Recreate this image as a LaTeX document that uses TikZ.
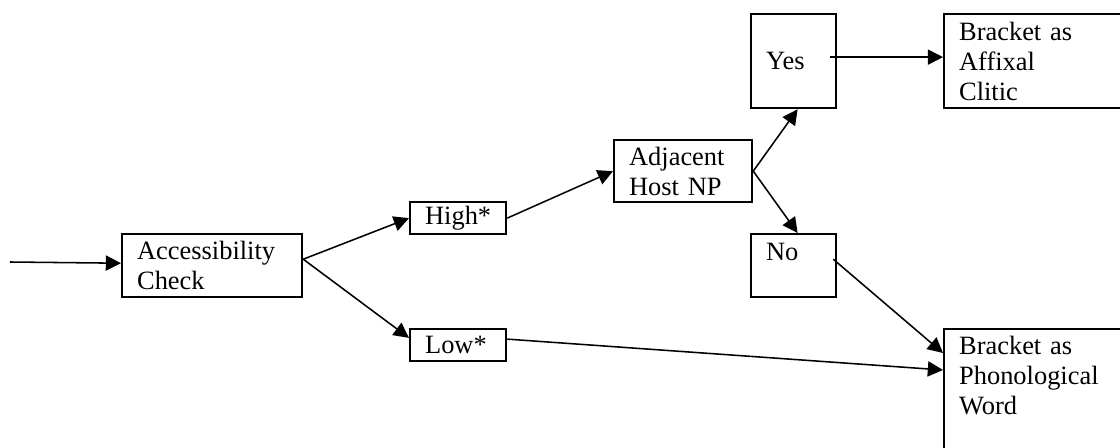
\documentclass[tikz,border=0pt]{standalone}
\usepackage{fontspec}
\setmainfont{Liberation Serif}
\usetikzlibrary{arrows.meta}
\tikzset{
    box/.style={draw, rectangle, anchor=north west, line width=1.6pt,
    	inner xsep=0.375cm, inner ysep=0pt, align=left,
    	font=\fontsize{18.8}{21.3}\selectfont}
}
\tikzset{
    every edge/.append style={line width=1.1pt, -{Triangle[length=0.38cm, width=0.38cm]}}
}

\begin{document}
\begin{tikzpicture}
	\useasboundingbox (0,0) rectangle (28cm, 11.2cm);
	\clip (0,0) rectangle (28cm, 11.2cm);
	\node (check) [box, text width=3.75cm, minimum height=1.575cm] at (3.025cm, 5.375cm) {Accessibility\\Check};
	\node (high) [box, text width=1.65cm, minimum height=0.8cm] at (10.225cm, 6.175cm) {High*};
	\node (low) [box, text width=1.65cm, minimum height=0.8cm] at (10.225cm, 3.0cm) {Low*};
	\node (host) [box, text width=2.7cm, minimum height=1.55cm] at (15.325cm, 7.725cm) {Adjacent\\Host NP};
	\node (yes) [box, text width=1.375cm, minimum height=2.35cm] at (18.75cm, 10.875cm) {Yes};
	\node (no) [box, text width=1.375cm, text height=0.65cm, text depth=0.925cm] at (18.75cm, 5.375cm) {No};
	\node (affix) [box, text width=4.25cm, minimum height=2.35cm] at (23.575cm, 10.875cm) {Bracket as\\Affixal\\Clitic};
	\node (word) [box, text width=4.25cm, text height=0.625cm, text depth=3.175cm] at (23.575cm, 3.0cm) {Bracket as\\Phonological\\Word};
	\coordinate (in) at (0.25cm, 4.65cm);
	
	\draw (in) edge ([yshift=0.06cm]check.west);
	\draw ([yshift=0.16cm]check.east) edge (high.west);
	\draw ([yshift=0.16cm]check.east) edge ([yshift=0.18cm]low.west);
	\draw (high.east) edge (host.west);
	\draw (host.east) edge ([xshift=0.1cm]yes.south);
	\draw (host.east) edge ([xshift=0.1cm]no.north);
	
	\draw ([xshift=-0.18cm, yshift=0.1cm]yes.east) edge ([yshift=0.1cm]affix.west);
	\draw ([xshift=-0.1cm, yshift=0.16cm]no.east) edge ([yshift=-0.625cm]word.north west);
	\draw ([yshift=0.15cm]low.east) edge ([yshift=-1.05cm]word.north west);
\end{tikzpicture}
\end{document}
